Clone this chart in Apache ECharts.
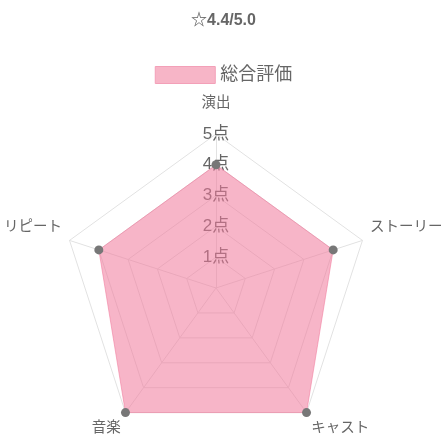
<!DOCTYPE html>
<html><head><meta charset="utf-8">
<script src="https://cdn.jsdelivr.net/npm/echarts@6/dist/echarts.min.js"></script>
<style>html,body{margin:0;padding:0;background:#fff}#c{width:447px;height:442px}</style>
</head><body><div id="c"></div>
<script>
const titleText = '☆4.4/5.0';
const seriesName = '総合評価';
// clockwise from top
const categories = ['演出', 'ストーリー', 'キャスト', '音楽', 'リピート'];
const values = [4, 4, 5, 5, 4];
const maxValue = 5;
const tickLabels = ['', '1点', '2点', '3点', '4点', '5点'];

// ECharts lays radar indicators counter-clockwise; reorder for clockwise display
const order = [0, 4, 3, 2, 1];
const namePos = {'演出': 't', 'ストーリー': 's', 'リピート': 's', 'キャスト': 'b', '音楽': 'b'};

const font = '"Liberation Sans", "Noto Sans CJK JP", sans-serif';
const fill = 'rgba(240,120,155,0.55)';
const chart = echarts.init(document.getElementById('c'), null, {renderer: 'canvas'});
chart.setOption({
  animation: false,
  title: {text: titleText, left: 'center', top: 8,
    textStyle: {fontSize: 16, fontWeight: 'bold', color: '#666', fontFamily: font}},
  legend: {data: [{name: seriesName, itemStyle: {color: '#f7b5c7', borderColor: '#f3a0b8', borderWidth: 1}}],
    top: 61, left: 'center', itemWidth: 60, itemHeight: 17, itemGap: 8,
    icon: 'rect',
    textStyle: {fontSize: 18, color: '#666', fontFamily: font}},
  radar: {
    center: [216, 288], radius: 154, startAngle: 90, splitNumber: 5,
    shape: 'polygon',
    indicator: order.map((k, i) => i === 0 ? {name: categories[k], max: maxValue, min: 0,
      axisLabel: {show: true, margin: 0, align: 'center', verticalAlign: 'middle', fontSize: 17, color: '#666', fontFamily: font,
        formatter: v => tickLabels[v] || ''}} : {name: categories[k], max: maxValue, min: 0}),
    nameGap: 8,
    axisName: {color: '#666', fontSize: 14.5, fontFamily: font,
      formatter: n => '{' + namePos[n] + '|' + n + '}',
      rich: {
        t: {fontSize: 14.5, color: '#666', fontFamily: font, padding: [0, 0, 16, 0]},
        s: {fontSize: 14.5, color: '#666', fontFamily: font, padding: [0, 0, 22, 0]},
        b: {fontSize: 14.5, color: '#666', fontFamily: font, padding: [18, 0, 0, 0]}
      }},
    axisLine: {lineStyle: {color: '#e2e2e2'}},
    splitLine: {lineStyle: {color: '#e2e2e2'}},
    splitArea: {show: false},
    axisLabel: {show: false}
  },
  series: [{
    type: 'radar', name: seriesName,
    symbol: 'circle', symbolSize: 9,
    itemStyle: {color: '#777', borderWidth: 0},
    lineStyle: {color: fill, width: 1},
    areaStyle: {color: fill, opacity: 1},
    data: [{value: order.map(k => values[k]), name: seriesName}]
  }]
});
</script></body></html>
